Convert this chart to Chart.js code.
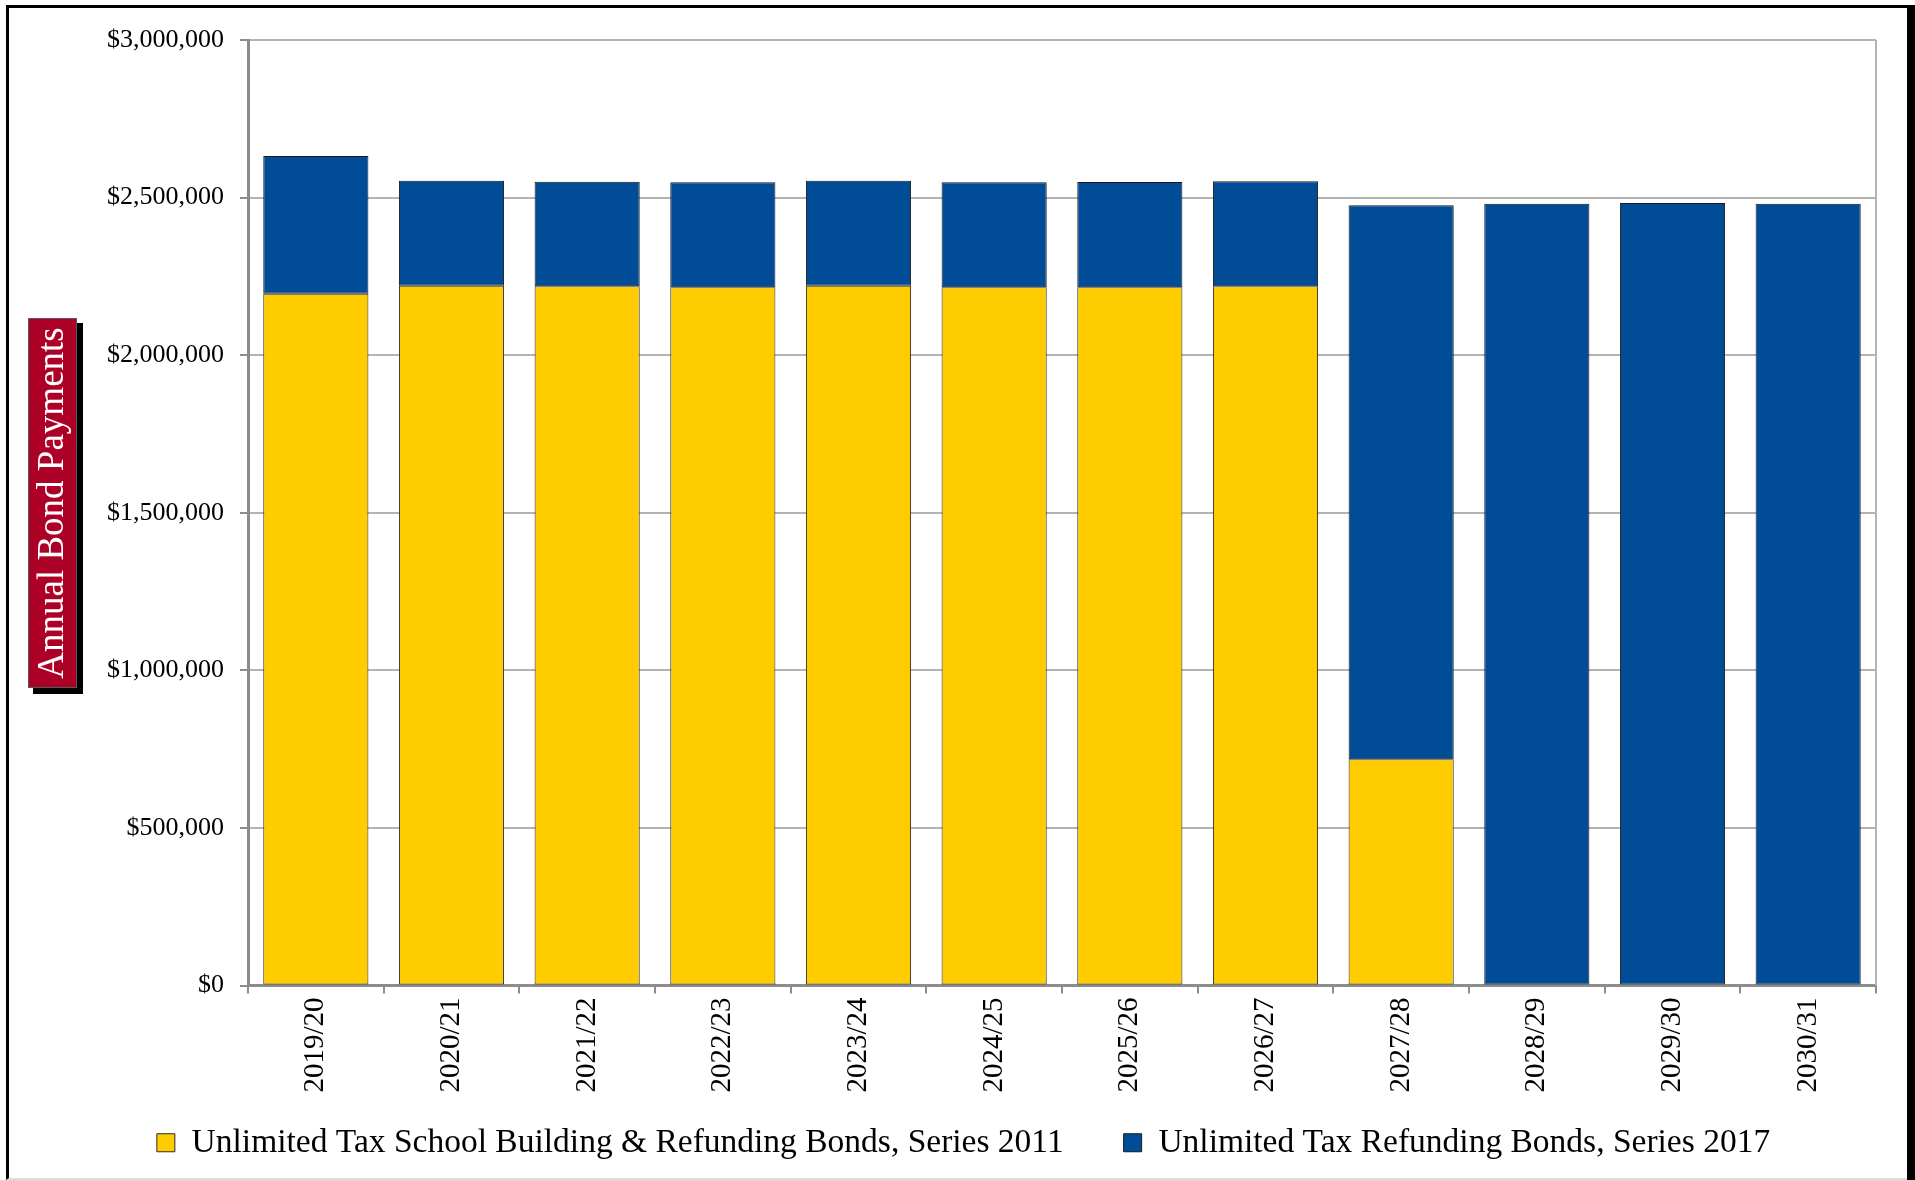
<!DOCTYPE html>
<html>
<head>
<meta charset="utf-8">
<script src="https://cdn.jsdelivr.net/npm/chart.js@4.4.1/dist/chart.umd.min.js"></script>
<style>
  html, body { margin: 0; padding: 0; background: #fff; }
  #wrap { position: absolute; left: 0; top: 0; width: 1915px; height: 1180px; }
  #frame {
    position: absolute; left: 6px; top: 5px; width: 1898px; height: 1170px;
    border-left: 3px solid #000; border-top: 3px solid #000; border-bottom: 2px solid #ddd;
    pointer-events: none;
  }
  #shadow { position: absolute; left: 1907px; top: 5px; width: 8px; height: 1175px; background: #000; }
</style>
</head>
<body>
<div id="wrap">
  <canvas id="bondChart" width="1915" height="1180"></canvas>
  <div id="frame"></div>
  <div id="shadow"></div>
</div>
<script>
const years = ["2019/20", "2020/21", "2021/22", "2022/23", "2023/24", "2024/25",
  "2025/26", "2026/27", "2027/28", "2028/29", "2029/30", "2030/31"];

const series2011 = [2195000, 2220600, 2218500, 2215400, 2220600, 2215400,
  2215400, 2218500, 718200, 0, 0, 0];

const series2017 = [436800, 333100, 332000, 333100, 333100, 333100,
  334100, 333100, 1757400, 2480700, 2482900, 2480700];

const yTickLabels = ["$0", "$500,000", "$1,000,000", "$1,500,000", "$2,000,000", "$2,500,000", "$3,000,000"];

const seriesNames = [
  "Unlimited Tax School Building & Refunding Bonds, Series 2011",
  "Unlimited Tax Refunding Bonds, Series 2017"
];

const yTitle = "Annual Bond Payments";

const SERIF = "'Liberation Serif', 'Times New Roman', serif";

// red boxed axis title with a drop shadow
const titleBox = {
  id: "titleBox",
  afterDraw(chart) {
    const c = chart.ctx;
    c.save();
    c.fillStyle = "#000";
    c.fillRect(33, 323, 50, 371);
    c.fillStyle = "#ad0026";
    c.fillRect(28, 318, 49, 370);
    c.strokeStyle = "#5a5a5a";
    c.lineWidth = 1;
    c.strokeRect(28.5, 318.5, 48, 369);
    c.translate(53, 503);
    c.rotate(-Math.PI / 2);
    c.fillStyle = "#fff";
    c.font = "37px " + SERIF;
    c.textAlign = "center";
    c.textBaseline = "middle";
    c.fillText(yTitle, 0, 0);
    c.restore();
  }
};

const plotEdge = {
  id: "plotEdge",
  beforeDatasetsDraw(chart) {
    const { ctx: c, chartArea: a } = chart;
    c.save();
    c.strokeStyle = "#b3b3b3";
    c.lineWidth = 2;
    c.beginPath();
    c.moveTo(a.right, a.top);
    c.lineTo(a.right, a.bottom);
    c.stroke();
    c.restore();
  }
};

new Chart(document.getElementById("bondChart"), {
  type: "bar",
  data: {
    labels: years,
    datasets: [
      {
        label: seriesNames[0],
        data: series2011,
        backgroundColor: "#ffcc00",
        borderColor: "#2b2b2b",
        borderWidth: 1,
        borderSkipped: false,
        categoryPercentage: 1,
        barPercentage: 0.775
      },
      {
        label: seriesNames[1],
        data: series2017,
        backgroundColor: "#004c97",
        borderColor: "#1a1a1a",
        borderWidth: 1,
        borderSkipped: false,
        categoryPercentage: 1,
        barPercentage: 0.775
      }
    ]
  },
  options: {
    responsive: false,
    animation: false,
    layout: { padding: { left: 51, right: 39, top: 40, bottom: 10.5 } },
    plugins: {
      legend: {
        position: "bottom",
        labels: {
          color: "#000",
          font: { family: SERIF, size: 33.5 },
          boxWidth: 18,
          boxHeight: 18,
          padding: 26.5,
          // wider gap between the two entries than the vertical padding allows
          generateLabels: (chart) => {
            const items = Chart.defaults.plugins.legend.labels.generateLabels(chart);
            if (items.length) items[0].text += "\u2002\u2002";
            return items;
          }
        }
      },
      tooltip: { enabled: false }
    },
    scales: {
      x: {
        stacked: true,
        afterFit: (s) => { s.height = 114; },
        grid: { drawOnChartArea: false, tickLength: 8, tickColor: "#8c8c8c", lineWidth: 2 },
        border: { color: "#8c8c8c", width: 3 },
        ticks: {
          color: "#000",
          font: { family: SERIF, size: 29 },
          minRotation: 90,
          maxRotation: 90,
          padding: 4,
          autoSkip: false
        }
      },
      y: {
        stacked: true,
        min: 0,
        max: 3000000,
        afterFit: (s) => { s.width = 197; },
        grid: { color: "#b3b3b3", lineWidth: 2, tickLength: 8, tickColor: "#8c8c8c" },
        border: { color: "#8c8c8c", width: 3 },
        ticks: {
          stepSize: 500000,
          color: "#000",
          font: { family: SERIF, size: 26 },
          padding: 16,
          callback: (v, i) => yTickLabels[i]
        }
      }
    }
  },
  plugins: [titleBox, plotEdge]
});
</script>
</body>
</html>
